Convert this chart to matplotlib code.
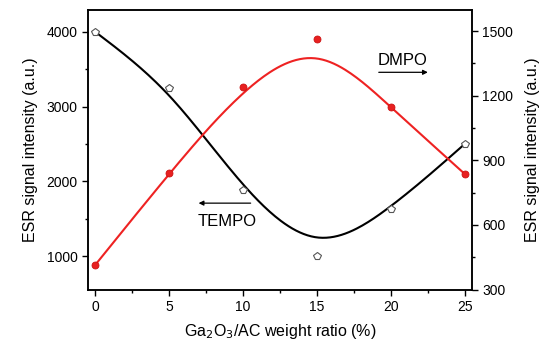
import numpy as np
import matplotlib
matplotlib.use("Agg")
import matplotlib.pyplot as plt
from matplotlib.ticker import MultipleLocator

plt.rcParams["font.family"] = ["Liberation Sans", "DejaVu Sans"]

ratio = [0, 5, 10, 15, 20, 25]
tempo = [4000, 3250, 1880, 1000, 1630, 2500]
dmpo = [415, 840, 1240, 1462, 1146, 837]


def bspline(px, py, n=40):
    # uniform cubic B-spline, data points as control points,
    # reflected phantom points so the curve starts/ends on the data
    p = np.column_stack([px, py]).astype(float)
    p = np.vstack([2 * p[0] - p[1], p, 2 * p[-1] - p[-2]])
    u = np.linspace(0, 1, n)
    b0 = (1 - u) ** 3 / 6
    b1 = (3 * u ** 3 - 6 * u ** 2 + 4) / 6
    b2 = (-3 * u ** 3 + 3 * u ** 2 + 3 * u + 1) / 6
    b3 = u ** 3 / 6
    segs = []
    for i in range(len(p) - 3):
        seg = (np.outer(b0, p[i]) + np.outer(b1, p[i + 1])
               + np.outer(b2, p[i + 2]) + np.outer(b3, p[i + 3]))
        segs.append(seg)
    c = np.vstack(segs)
    return c[:, 0], c[:, 1]


fig = plt.figure(figsize=(5.43, 3.44), dpi=100)
ax = fig.add_axes([88 / 543, 1 - 289.5 / 344, (472 - 88) / 543, (289.5 - 9.5) / 344])
ax2 = ax.twinx()

bx, by = bspline(ratio, tempo)
ax.plot(bx, by, color="black", lw=1.5)
ax.plot(ratio, tempo, linestyle="none", marker="p", markersize=5.5,
        markerfacecolor="white", markeredgecolor="#555555", markeredgewidth=0.8)
rx, ry = bspline(ratio, dmpo)
ax2.plot(rx, ry, color="#ee2222", lw=1.5)
ax2.plot(ratio, dmpo, linestyle="none", marker="o", markersize=5,
         markerfacecolor="#e82020", markeredgecolor="#cc1111", markeredgewidth=0.6)

ax.set_xlim(-0.5, 25.5)
ax.set_ylim(555, 4300)
ax2.set_ylim(300, 1600)

ax.xaxis.set_major_locator(MultipleLocator(5))
ax.xaxis.set_minor_locator(MultipleLocator(2.5))
ax.yaxis.set_major_locator(MultipleLocator(1000))
ax.yaxis.set_minor_locator(MultipleLocator(500))
ax2.yaxis.set_major_locator(MultipleLocator(300))
ax2.yaxis.set_minor_locator(MultipleLocator(150))

for a in (ax, ax2):
    a.tick_params(which="major", direction="out", length=4, width=1, labelsize=10)
    a.tick_params(which="minor", direction="out", length=2.5, width=1)
    for s in a.spines.values():
        s.set_linewidth(1.1)

ax.set_xlabel("Ga$_2$O$_3$/AC weight ratio (%)", fontsize=11.5, labelpad=6)
ax.set_ylabel("ESR signal intensity (a.u.)", fontsize=11.5, labelpad=6)
ax2.set_ylabel("ESR signal intensity (a.u.)", fontsize=11.5, labelpad=8)

ax.text(20.8, 3620, "DMPO", fontsize=12, ha="center", va="center")
ax.annotate("", xy=(22.7, 3460), xytext=(19.0, 3460),
            arrowprops=dict(arrowstyle="-|>", color="black", lw=0.9, mutation_scale=7))
ax.text(8.95, 1470, "TEMPO", fontsize=12, ha="center", va="center")
ax.annotate("", xy=(6.8, 1710), xytext=(10.7, 1710),
            arrowprops=dict(arrowstyle="-|>", color="black", lw=0.9, mutation_scale=7))

fig.savefig("out.png", dpi=100)
